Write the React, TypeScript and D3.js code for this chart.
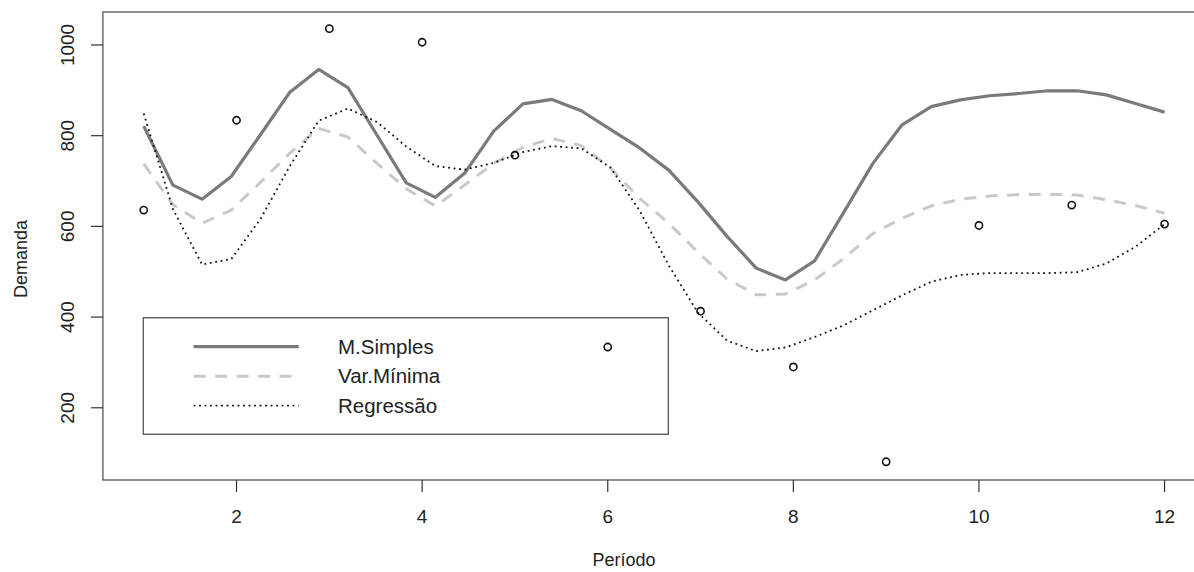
import * as d3 from 'd3'

// observed demand per period
const periods = [1, 2, 3, 4, 5, 6, 7, 8, 9, 10, 11, 12]
const demanda = [636, 834, 1036, 1006, 757, 334, 413, 290, 81, 602, 647, 605]

// fitted curves at 36 evenly spaced periods (1..12)
const samplePeriods = d3.range(36).map(i => 1 + (i * 11) / 35)
const mSimples = [821, 691, 660, 710, 802, 895, 946, 906, 801, 696, 664, 717,
  810, 870, 880, 855, 814, 773, 724, 654, 578, 508, 482, 524,
  631, 739, 824, 864, 879, 888, 893, 899, 899, 890, 871, 852]
const varMinima = [738, 648, 607, 636, 697, 761, 816, 797, 739, 683, 645, 691,
  739, 774, 794, 778, 729, 662, 607, 543, 484, 449, 451, 482,
  529, 584, 618, 645, 660, 667, 670, 671, 669, 659, 646, 629]
const regressao = [849, 638, 516, 528, 616, 732, 833, 860, 830, 776, 733, 725,
  740, 764, 777, 772, 730, 635, 514, 410, 348, 325, 333, 356,
  382, 415, 448, 478, 493, 497, 497, 497, 499, 518, 555, 605]

const xTicks = [2, 4, 6, 8, 10, 12]
const yTicks = [200, 400, 600, 800, 1000]

const legendItems = [
  { label: 'M.Simples', color: '#7a7a7a', width: 3.2, dash: null },
  { label: 'Var.Mínima', color: '#c9c9c9', width: 3, dash: '12,9.5' },
  { label: 'Regressão', color: '#111', width: 1.8, dash: '1.8,3.7' },
]

const W = 1194
const H = 572
const font = 'Liberation Sans, Arial, sans-serif'

export default function App() {
  const x = d3.scaleLinear().domain([0.56, 12.44]).range([102.9, 1205.4])
  const y = d3.scaleLinear().domain([40.8, 1072.7]).range([480, 12])

  const line = d3.line<number>()
    .x((_, i) => x(samplePeriods[i]))
    .y(d => y(d))

  const series = [mSimples, varMinima, regressao]

  return (
    <svg width={W} height={H} style={{ position: 'absolute', left: 0, top: 0, background: '#fff' }}
      fontFamily={font}>
      {/* plot box */}
      <rect x={x(0.56)} y={y(1072.7)} width={x(12.44) - x(0.56)} height={y(40.8) - y(1072.7)}
        fill="none" stroke="#555" strokeWidth={1.3} />

      {/* x axis */}
      {xTicks.map(t => (
        <g key={t} transform={`translate(${x(t)},480)`}>
          <line y2={12} stroke="#333" strokeWidth={1.2} />
          <text y={43} textAnchor="middle" fontSize={19} fill="#222">{t}</text>
        </g>
      ))}
      {/* y axis */}
      {yTicks.map(t => (
        <g key={t} transform={`translate(103,${y(t)})`}>
          <line x2={-12} stroke="#333" strokeWidth={1.2} />
          <text transform="translate(-29,0) rotate(-90)" textAnchor="middle" fontSize={19} fill="#222">{t}</text>
        </g>
      ))}

      <text x={624} y={566} textAnchor="middle" fontSize={18} fill="#222">Período</text>
      <text transform="translate(27,259) rotate(-90)" textAnchor="middle" fontSize={18} fill="#222">Demanda</text>

      {/* fitted curves */}
      {series.map((s, i) => (
        <path key={i} d={line(s) || ''} fill="none" stroke={legendItems[i].color}
          strokeWidth={legendItems[i].width} strokeDasharray={legendItems[i].dash || undefined}
          strokeLinejoin="round" />
      ))}

      {/* observed points */}
      {periods.map((p, i) => (
        <circle key={p} cx={x(p)} cy={y(demanda[i])} r={3.6} fill="none" stroke="#111" strokeWidth={1.6} />
      ))}

      {/* legend */}
      <g>
        <rect x={143.3} y={317.7} width={525} height={116.6} fill="none" stroke="#555" strokeWidth={1.3} />
        {legendItems.map((it, i) => (
          <g key={it.label} transform={`translate(0,${346.7 + i * 29.5})`}>
            <line x1={193.6} x2={298.7} stroke={it.color} strokeWidth={it.width}
              strokeDasharray={it.dash || undefined} />
            <text x={338} y={7} fontSize={20.5} fill="#222">{it.label}</text>
          </g>
        ))}
      </g>
    </svg>
  )
}
